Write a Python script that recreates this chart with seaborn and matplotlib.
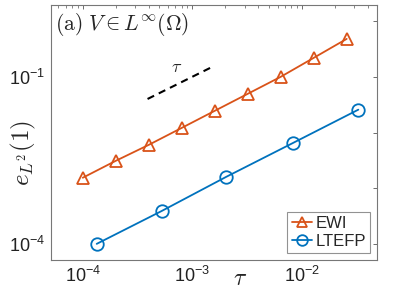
import numpy as np
import pandas as pd
import matplotlib
matplotlib.use("Agg")
import matplotlib.pyplot as plt
import seaborn as sns
from matplotlib.ticker import LogLocator, NullFormatter, FixedLocator

# data
tau_ewi = [1e-4, 2e-4, 4e-4, 8e-4, 1.6e-3, 3.2e-3, 6.4e-3, 1.28e-2, 2.56e-2]
err_ewi = [1.54e-3, 3.1e-3, 6.0e-3, 1.21e-2, 2.45e-2, 4.95e-2, 1.0e-1, 2.19e-1, 4.8e-1]
tau_ltefp = [1.34e-4, 5.26e-4, 2.04e-3, 8.3e-3, 3.27e-2]
err_ltefp = [1.0e-4, 3.9e-4, 1.6e-3, 6.5e-3, 2.57e-2]
ref_tau = [3.9e-4, 1.52e-3]
ref_err = [0.040, 0.151]
series_names = ["EWI", "LTEFP"]
xtick_vals = [1e-4, 1e-3, 1e-2]
xtick_labels = [r"$10^{-4}$", r"$10^{-3}$", r"$10^{-2}$"]
ytick_vals = [1e-4, 1e-3, 1e-2, 1e-1, 1e0]
ytick_labels = [r"$10^{-4}$", "", "", r"$10^{-1}$", ""]

df = pd.concat([
    pd.DataFrame({"tau": tau_ewi, "err": err_ewi, "method": series_names[0]}),
    pd.DataFrame({"tau": tau_ltefp, "err": err_ltefp, "method": series_names[1]}),
])

sns.set_theme(style="white")
plt.rcParams["font.family"] = ["Liberation Sans", "DejaVu Sans"]
plt.rcParams["mathtext.fontset"] = "custom"
plt.rcParams["mathtext.rm"] = "Liberation Sans"
plt.rcParams["mathtext.it"] = "Liberation Sans"
plt.rcParams["mathtext.sf"] = "Liberation Sans"

fig = plt.figure(figsize=(3.95, 2.96), dpi=100)
ax = fig.add_axes([51/395, 1-260/296, (377-51)/395, (260-5)/296])

def fx(px):
    return px / 395

def fy(py):
    return 1 - py / 296

palette = {"EWI": "#D95319", "LTEFP": "#0072BD"}
markers = {"EWI": "^", "LTEFP": "o"}
for name in series_names:
    sub = df[df["method"] == name]
    sns.lineplot(data=sub, x="tau", y="err", ax=ax, color=palette[name],
                 marker=markers[name], markersize=9, markerfacecolor="none",
                 markeredgecolor=palette[name], markeredgewidth=1.3,
                 linewidth=1.3, label=name)

ax.plot(ref_tau, ref_err, color="black", linestyle=(0, (3.5, 2.5)), linewidth=1.5)

ax.set_xscale("log")
ax.set_yscale("log")
ax.set_xlim(10**-4.29, 10**-1.315)
ax.set_ylim(10**-4.29, 10**0.29)

ax.xaxis.set_major_locator(FixedLocator(xtick_vals))
ax.xaxis.set_minor_locator(LogLocator(base=10, subs=np.arange(2, 10)))
ax.xaxis.set_minor_formatter(NullFormatter())
ax.yaxis.set_major_locator(FixedLocator(ytick_vals))
ax.yaxis.set_minor_locator(FixedLocator([]))
ax.set_xticklabels(xtick_labels)
ax.set_yticklabels(ytick_labels)

for lab in ax.get_xticklabels() + ax.get_yticklabels():
    lab.set_fontsize(13)

ax.tick_params(which="both", direction="in", top=True, right=True,
               color="#555555", labelcolor="#222222")
ax.tick_params(which="major", length=3, width=0.6, pad=4)
ax.tick_params(which="minor", length=2, width=0.5)
for s in ax.spines.values():
    s.set_color("#777777")
    s.set_linewidth(0.8)

ax.set_xlabel("")
ax.set_ylabel("")
fig.text(fx(23), fy(153), r"$e_{L^2}(1)$", fontsize=18, rotation=90,
         ha="center", va="center", math_fontfamily="cm")
fig.text(fx(240), fy(279), r"$\tau$", fontsize=17, ha="center", va="center",
         math_fontfamily="cm")
fig.text(fx(177), fy(67), r"$\tau$", fontsize=13, ha="center", va="center",
         math_fontfamily="cm")
ax.text(0.012, 0.975, r"$\mathrm{(a)}\ V\in L^{\infty}(\Omega)$", transform=ax.transAxes,
        fontsize=15.5, ha="left", va="top", math_fontfamily="cm")

leg = ax.legend(loc="lower right", frameon=True, fontsize=12, handlelength=1.25,
                handletextpad=0.2, borderpad=0.25, labelspacing=0.2,
                borderaxespad=0.4, fancybox=False, markerscale=0.85)
leg.get_frame().set_edgecolor("#777777")
leg.get_frame().set_linewidth(0.8)

fig.savefig("out.png", dpi=100)
